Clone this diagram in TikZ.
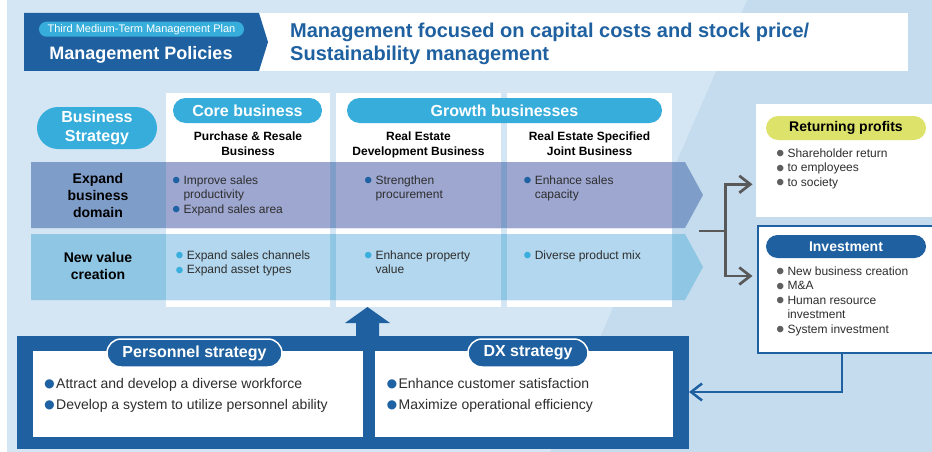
\documentclass[tikz,border=0pt]{standalone}
\usepackage{fontspec}
\setmainfont{Liberation Sans}
\usepackage{graphicx}
\usetikzlibrary{arrows.meta}

\definecolor{bgL}{HTML}{D4E6F4}
\definecolor{bgR}{HTML}{C5DCEF}
\definecolor{navy}{HTML}{1F61A0}
\definecolor{sky}{HTML}{36ADDA}
\definecolor{rowAbg}{HTML}{7F9DC9}
\definecolor{rowAw}{HTML}{9DA7D0}
\definecolor{rowBbg}{HTML}{8EC6E4}
\definecolor{rowBw}{HTML}{B2D7EE}
\definecolor{lime}{HTML}{DDE26B}
\definecolor{forkgray}{HTML}{595959}
\definecolor{ink}{HTML}{2E2E2E}
\definecolor{dotA}{HTML}{1F62A3}
\definecolor{dotB}{HTML}{3AAEDC}
\definecolor{dotG}{HTML}{5F5F5F}

\newcommand\fs[2]{\fontsize{#1}{#2}\selectfont}
% bullet dot followed by a fixed gap before the item text (smashed so it never widens a line)
\newcommand\bul[1]{\makebox[11.5pt][l]{\smash{\textcolor{#1}{\raisebox{-0.37em}{\scalebox{2.0}{\textbullet}}}}}}
\newcommand\bulb[1]{\makebox[12.6pt][l]{\smash{\textcolor{#1}{\raisebox{-0.5em}{\scalebox{2.4}{\textbullet}}}}}}
\newcommand\cont{\hspace*{11.5pt}}

\tikzset{
  pill/.style={rectangle, inner sep=0pt, text=white, font=\bfseries\fs{16}{19}, align=center},
  bl/.style={anchor=north west, inner sep=0pt, align=left, text=ink, font=\fs{12}{14.5}},
  bbl/.style={bl, font=\fs{14}{21}},
  colhead/.style={anchor=north, inner sep=0pt, align=center, text=black, font=\bfseries\fs{12}{15}},
  rowlab/.style={inner sep=0pt, align=center, text=black, font=\bfseries\fs{14}{17}},
  panel/.style={anchor=north west, inner sep=0pt, fill=white},
  forkline/.style={draw=forkgray, line width=2.7pt},
  barb/.style={-{Straight Barb[length=11pt,width=17pt]}},
}

\begin{document}
\begin{tikzpicture}[x=1pt,y=-1pt]
\useasboundingbox (0,0) rectangle (932,452);

% canvas with the lighter diagonal field on the left
\fill[white] (0,0) rectangle (932,452);
\fill[bgR] (7,0) rectangle (932,452);
\fill[bgL] (7,0) -- (747,0) -- (550,452) -- (7,452) -- cycle;

% ---- header ----
\node[panel, minimum width=650pt, minimum height=58pt] (titlebox) at (258,13) {};
\fill[navy] (24,13) -- (259,13) -- (268,42) -- (259,71) -- (24,71) -- cycle;
\node[pill, fill=sky, minimum width=205pt, minimum height=15pt, rounded corners=7.5pt,
      font=\fs{11}{13}] (plan) at (141.5,29.2) {Third Medium-Term Management Plan};
\node[inner sep=0pt, text=white, font=\bfseries\fs{18}{21}] (policies) at (141,55) {Management Policies};
\node[anchor=north west, inner sep=0pt, align=left, text=navy, font=\bfseries\fs{20}{23.5}]
      (title) at (290,22.5) {Management focused on capital costs and stock price/\\Sustainability management};

% ---- business columns ----
\node[panel, minimum width=164pt, minimum height=214pt] (colA) at (166,93) {};
\node[panel, minimum width=165pt, minimum height=214pt] (colB) at (336,93) {};
\node[panel, minimum width=165pt, minimum height=214pt] (colC) at (507,93) {};

\node[pill, fill=sky, minimum width=120pt, minimum height=42pt, rounded corners=21pt]
      (strategy) at (97,128) {Business\\Strategy};
\node[pill, fill=sky, minimum width=149pt, minimum height=25pt, rounded corners=12.5pt]
      (core) at (247.5,110.5) {Core business};
\node[pill, fill=sky, minimum width=315pt, minimum height=25pt, rounded corners=12.5pt]
      (growth) at (504.5,110.5) {Growth businesses};

\node[colhead] (hA) at (248,131.5) {Purchase \& Resale\\Business};
\node[colhead] (hB) at (418.5,131.5) {Real Estate\\Development Business};
\node[colhead] (hC) at (589.5,131.5) {Real Estate Specified\\Joint Business};

% ---- strategy bands ----
\fill[rowAbg] (31,162) -- (685,162) -- (703,195) -- (685,228) -- (31,228) -- cycle;
\fill[rowAw] (166,162) rectangle (330,228) (336,162) rectangle (501,228) (507,162) rectangle (672,228);
\fill[rowBbg] (31,234) -- (685,234) -- (703,267) -- (685,300) -- (31,300) -- cycle;
\fill[rowBw] (166,234) rectangle (330,300) (336,234) rectangle (501,300) (507,234) rectangle (672,300);

\node[rowlab] (expand) at (98,195) {Expand\\business\\domain};
\node[rowlab] (newval) at (98,266) {New value\\creation};

\node[bl] (coreA) at (171.8,175.3) {\bul{dotA}Improve sales\\\cont productivity\\\bul{dotA}Expand sales area};
\node[bl] (coreB) at (175.1,250.3) {\bul{dotB}Expand sales channels\\\bul{dotB}Expand asset types};
\node[bl] (devA) at (363.8,175.3) {\bul{dotA}Strengthen\\\cont procurement};
\node[bl] (devB) at (363.8,250.3) {\bul{dotB}Enhance property\\\cont value};
\node[bl] (jointA) at (523.1,175.3) {\bul{dotA}Enhance sales\\\cont capacity};
\node[bl] (jointB) at (523.1,250.3) {\bul{dotB}Diverse product mix};

% ---- profit allocation ----
\node[panel, minimum width=180pt, minimum height=113pt] (ret) at (756,104) {};
\node[pill, fill=lime, text=black, font=\bfseries\fs{14}{17}, minimum width=160pt, minimum height=24pt,
      rounded corners=12pt] (retpill) at (846,128) {Returning profits};
\node[bl] (retlist) at (775.8,148.3) {\bul{dotG}Shareholder return\\\bul{dotG}to employees\\\bul{dotG}to society};

\node[panel, draw=navy, line width=2pt, minimum width=180pt, minimum height=127pt] (inv) at (757,225) {};
\node[pill, fill=navy, font=\bfseries\fs{14}{17}, minimum width=160pt, minimum height=23pt,
      rounded corners=11.5pt] (invpill) at (846,246.5) {Investment};
\node[bl] (invlist) at (775.8,266.3) {\bul{dotG}New business creation\\\bul{dotG}M\&A\\\bul{dotG}Human resource\\\cont investment\\\bul{dotG}System investment};

\coordinate (forkin) at (699,231);
\coordinate (forkmid) at (725.5,231);
\coordinate (toret) at (752.5,184.3);
\coordinate (toinv) at (752.5,276);
\draw[forkline] (forkin) -- (forkmid);
\draw[forkline, barb] (forkmid) |- (toret);
\draw[forkline, barb] (forkmid) |- (toinv);

% ---- functional strategies ----
\node[panel, fill=navy, minimum width=672pt, minimum height=113pt] (frame) at (17,336) {};
\node[panel, minimum width=330pt, minimum height=86pt] (persbox) at (33,351) {};
\node[panel, minimum width=298pt, minimum height=86pt] (dxbox) at (375,351) {};
\fill[navy] (356,337) -- (356,323) -- (345,323) -- (367.5,307) -- (390,323) -- (379,323) -- (379,337) -- cycle;

\node[pill, fill=navy, draw=white, line width=1.5pt, minimum width=175pt, minimum height=28pt,
      rounded corners=14pt] (perspill) at (194.5,353) {Personnel strategy};
\node[pill, fill=navy, draw=white, line width=1.5pt, minimum width=120pt, minimum height=28pt,
      rounded corners=14pt] (dxpill) at (528,353) {DX strategy};

\node[bbl] (perslist) at (43.4,378.5) {\bulb{dotA}Attract and develop a diverse workforce\\\bulb{dotA}Develop a system to utilize personnel ability};
\node[bbl] (dxlist) at (385.8,378.5) {\bulb{dotA}Enhance customer satisfaction\\\bulb{dotA}Maximize operational efficiency};

\coordinate (invout) at (842,353);
\coordinate (framein) at (689,392);
\draw[navy, line width=2.5pt, barb] (invout) |- (framein);
\end{tikzpicture}
\end{document}
